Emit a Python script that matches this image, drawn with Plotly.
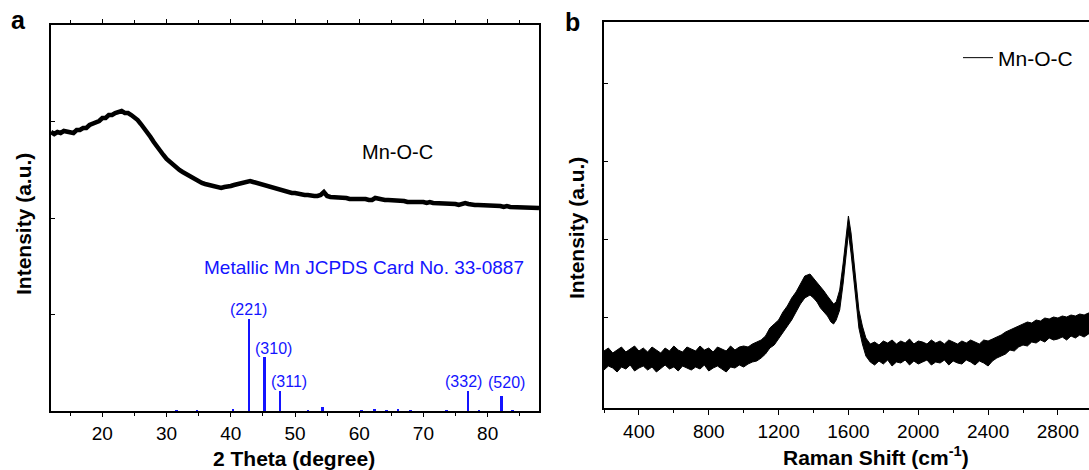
import plotly.graph_objects as go

FONT = "Liberation Sans, Arial, sans-serif"
BLUE = "#1414ff"

# ---------- panel a : XRD ----------
xrd_2theta = [12.0, 12.5, 13.0, 13.5, 14.0, 14.5, 15.0, 15.5, 16.0, 16.5, 17.0, 17.5, 18.0, 18.5, 19.0, 19.5,
              20.0, 20.5, 21.0, 21.5, 22.0, 22.5, 23.0, 23.5, 24.0, 24.5, 25.0, 25.5, 26.0, 26.5, 27.0, 27.5,
              28.0, 28.5, 29.0, 29.5, 30.0, 30.5, 31.0, 31.5, 32.0, 32.5, 33.0, 33.5, 34.0, 34.5, 35.0, 35.5,
              36.0, 36.5, 37.0, 37.5, 38.0, 38.5, 39.0, 39.5, 40.0, 40.5, 41.0, 41.5, 42.0, 42.5, 43.0, 43.5,
              44.0, 44.5, 45.0, 45.5, 46.0, 46.5, 47.0, 47.5, 48.0, 48.5, 49.0, 49.5, 50.0, 50.5, 51.0, 51.5,
              52.0, 52.5, 53.0, 53.5, 54.0, 54.5, 55.0, 55.5, 56.0, 56.5, 57.0, 57.5, 58.0, 58.5, 59.0, 59.5,
              60.0, 60.5, 61.0, 61.5, 62.0, 62.5, 63.0, 63.5, 64.0, 64.5, 65.0, 65.5, 66.0, 66.5, 67.0, 67.5,
              68.0, 68.5, 69.0, 69.5, 70.0, 70.5, 71.0, 71.5, 72.0, 72.5, 73.0, 73.5, 74.0, 74.5, 75.0, 75.5,
              76.0, 76.5, 77.0, 77.5, 78.0, 78.5, 79.0, 79.5, 80.0, 80.5, 81.0, 81.5, 82.0, 82.5, 83.0, 83.5,
              84.0, 84.5, 85.0, 85.5, 86.0, 86.5, 87.0, 87.5, 88.0]
xrd_intensity = [279, 277, 279, 278, 280, 279, 279, 278, 281, 281, 283, 283, 286, 287, 289, 290,
                 293, 293, 296, 296, 298, 299, 300, 298, 298, 296, 294, 291, 287, 283, 278, 274,
                 269, 264, 259, 256, 252, 249, 246, 244, 241, 239, 237, 235, 233, 232, 230, 228,
                 227, 226, 225, 224, 224, 223, 224, 224, 225, 226, 227, 228, 229, 230, 230, 229,
                 228, 227, 226, 225, 224, 223, 222, 221, 220, 220, 219, 218, 218, 217, 217, 216,
                 216, 215, 215, 215, 216, 219, 215, 214, 214, 214, 213, 213, 213, 212, 212, 213,
                 212, 212, 212, 211, 211, 213, 212, 211, 211, 211, 211, 210, 210, 210, 210, 209,
                 209, 210, 209, 209, 209, 208, 209, 208, 208, 208, 207, 208, 207, 207, 207, 206,
                 207, 208, 207, 206, 206, 206, 206, 205, 206, 205, 205, 205, 205, 204, 205, 204,
                 204, 204, 204, 203, 203, 203, 203, 203, 203]

stick_2theta = [31.6, 34.8, 40.4, 42.9, 45.3, 47.7, 52.1, 54.3, 60.4, 62.4, 64.3, 66.1, 68.0, 73.6, 77.0, 78.7, 82.2, 83.9]
stick_height = [1.0, 1.0, 2.5, 92.5, 54.0, 20.0, 1.0, 4.5, 1.0, 2.0, 1.0, 1.5, 1.0, 1.0, 20.0, 1.0, 15.0, 1.0]

hkl_labels = ["(221)", "(310)", "(311)", "(332)", "(520)"]
hkl_x = [42.8, 46.7, 49.1, 76.2, 83.0]
hkl_y = [102, 63, 30, 30, 29]

# ---------- panel b : Raman (noise envelope of the spectrum) ----------
raman_shift = [200, 225, 250, 275, 300, 325, 350, 375, 400, 425, 450, 475, 500, 525, 550, 575,
               600, 625, 650, 675, 700, 725, 750, 775, 800, 825, 850, 875, 900, 925, 950, 975,
               1000, 1025, 1050, 1075, 1100,
               1125, 1150, 1175, 1200, 1225, 1250, 1275, 1300, 1325, 1350, 1380, 1400, 1420, 1440,
               1460, 1480, 1500, 1515, 1530, 1550, 1570, 1585, 1600, 1615, 1630, 1645, 1660, 1680, 1700,
               1725, 1750, 1775, 1800, 1825, 1850, 1875, 1900, 1925, 1950, 1975, 2000, 2025, 2050,
               2075, 2100, 2125, 2150, 2175, 2200, 2225, 2250, 2275, 2300, 2325, 2350, 2375, 2400,
               2425, 2450, 2475, 2500, 2525, 2550, 2575, 2600, 2625, 2650, 2675, 2700, 2725, 2750,
               2775, 2800, 2825, 2850, 2875, 2900, 2925, 2950, 2975, 3000]
raman_low = [38, 42, 40, 36, 41, 39, 43, 37, 40, 42, 38, 41, 36, 40, 43, 39,
             41, 37, 42, 40, 38, 41, 39, 43, 37, 40, 42, 39, 36, 41, 40, 43,
             41, 44, 46, 47, 50,
             54, 60, 63, 69, 76, 82, 88, 96, 104, 110, 113, 110, 106, 100,
             96, 92, 86, 84, 88, 98, 125, 152, 175, 155, 128, 100, 80, 64, 52,
             46, 43, 47, 44, 48, 42, 46, 45, 48, 43, 47, 44, 46, 48,
             43, 46, 45, 48, 43, 47, 45, 44, 48, 46, 43, 47, 45, 42,
             47, 50, 52, 54, 58, 57, 61, 63, 62, 66, 65, 68, 66, 70,
             68, 69, 71, 68, 72, 70, 73, 71, 74, 72]
raman_high = [57, 60, 55, 58, 61, 56, 59, 62, 57, 60, 56, 61, 58, 55, 60, 57,
              62, 58, 56, 61, 59, 57, 62, 58, 60, 56, 61, 59, 57, 62, 58, 61,
              62, 61, 64, 66, 68,
              72, 80, 84, 88, 96, 102, 110, 116, 124, 132, 134, 130, 126, 122,
              117, 112, 108, 104, 106, 118, 145, 172, 192, 175, 148, 120, 98, 82, 70,
              64, 66, 63, 67, 65, 68, 64, 67, 65, 69, 64, 67, 66, 64,
              68, 65, 67, 64, 68, 66, 64, 67, 65, 68, 66, 64, 68, 67,
              69, 71, 73, 76, 78, 80, 82, 84, 86, 85, 88, 87, 90, 89,
              91, 90, 92, 91, 93, 92, 94, 93, 95, 94]

fig = go.Figure()

fig.add_trace(go.Scatter(x=xrd_2theta, y=xrd_intensity, mode="lines",
                         line=dict(color="black", width=4.5), showlegend=False,
                         xaxis="x", yaxis="y"))
fig.add_trace(go.Bar(x=stick_2theta, y=stick_height, width=0.3, marker=dict(color=BLUE, line=dict(width=0)),
                     showlegend=False, xaxis="x", yaxis="y"))

fig.add_trace(go.Scatter(x=raman_shift, y=raman_low, mode="lines",
                         line=dict(color="black", width=1), showlegend=False,
                         xaxis="x2", yaxis="y2"))
fig.add_trace(go.Scatter(x=raman_shift, y=raman_high, mode="lines", fill="tonexty",
                         fillcolor="black", line=dict(color="black", width=1), showlegend=False,
                         xaxis="x2", yaxis="y2"))
fig.add_trace(go.Scatter(x=[None], y=[None], mode="lines", name="Mn-O-C",
                         line=dict(color="black", width=1), showlegend=True,
                         xaxis="x2", yaxis="y2"))

W, H = 1089, 470
axis_common = dict(showline=True, linecolor="black", linewidth=1.6, showgrid=False, zeroline=False,
                   tickfont=dict(family=FONT, size=19, color="black"), tickcolor="black")

fig.update_layout(
    width=W, height=H, margin=dict(l=0, r=0, t=0, b=0),
    paper_bgcolor="white", plot_bgcolor="white",
    font=dict(family=FONT, color="black"),
    bargap=0,
    xaxis=dict(domain=[51 / W, 539 / W], range=[12, 88], anchor="y",
               tick0=0, dtick=10, ticks="outside", ticklen=4, tickwidth=1.2, mirror="ticks",
               minor=dict(dtick=5, ticks="outside", ticklen=3, tickwidth=1.2, tickcolor="black"),
               **axis_common),
    yaxis=dict(domain=[(H - 411) / H, (H - 25) / H], range=[0, 386], anchor="x",
               tickvals=[96.5, 193, 289.5], showticklabels=False,
               ticks="inside", ticklen=4, tickwidth=1.2, mirror=True, **axis_common),
    xaxis2=dict(domain=[604 / W, 1.0], range=[200, 2978], anchor="y2",
                tick0=0, dtick=400, ticks="outside", ticklen=5, tickwidth=1.2, mirror=True,
                minor=dict(dtick=200, ticks="outside", ticklen=3, tickwidth=1.2, tickcolor="black"),
                **axis_common),
    yaxis2=dict(domain=[(H - 408) / H, (H - 22) / H], range=[0, 386], anchor="x2",
                tickvals=[91, 169, 247, 325], showticklabels=False,
                ticks="inside", ticklen=4, tickwidth=1.2, **axis_common),
    legend=dict(x=958 / W, y=(H - 58) / H, xanchor="left", yanchor="middle",
                font=dict(family=FONT, size=21, color="black"), bgcolor="rgba(0,0,0,0)"),
)

ann = []
for lab, lx, ly in zip(hkl_labels, hkl_x, hkl_y):
    ann.append(dict(x=lx, y=ly, xref="x", yref="y", text=lab, showarrow=False,
                    font=dict(family=FONT, size=16, color=BLUE), xanchor="center", yanchor="middle"))
ann.append(dict(x=60.7, y=144, xref="x", yref="y", text="Metallic Mn JCPDS Card No. 33-0887",
                showarrow=False, font=dict(family=FONT, size=19, color=BLUE), xanchor="center", yanchor="middle"))
ann.append(dict(x=65.9, y=259, xref="x", yref="y", text="Mn-O-C", showarrow=False,
                font=dict(family=FONT, size=20, color="black"), xanchor="center", yanchor="middle"))
# axis titles and panel letters
ann.append(dict(x=294 / W, y=(H - 458) / H, xref="paper", yref="paper", text="<b>2 Theta (degree)</b>",
                showarrow=False, font=dict(family=FONT, size=21, color="black"), xanchor="center", yanchor="middle"))
ann.append(dict(x=876 / W, y=(H - 456) / H, xref="paper", yref="paper", text="<b>Raman Shift (cm<sup>-1</sup>)</b>",
                showarrow=False, font=dict(family=FONT, size=21, color="black"), xanchor="center", yanchor="middle"))
ann.append(dict(x=23 / W, y=(H - 224) / H, xref="paper", yref="paper", text="<b>Intensity (a.u.)</b>",
                showarrow=False, textangle=-90, font=dict(family=FONT, size=21, color="black"),
                xanchor="center", yanchor="middle"))
ann.append(dict(x=576 / W, y=(H - 228) / H, xref="paper", yref="paper", text="<b>Intensity (a.u.)</b>",
                showarrow=False, textangle=-90, font=dict(family=FONT, size=21, color="black"),
                xanchor="center", yanchor="middle"))
ann.append(dict(x=18 / W, y=(H - 20) / H, xref="paper", yref="paper", text="<b>a</b>",
                showarrow=False, font=dict(family=FONT, size=25, color="black"), xanchor="center", yanchor="middle"))
ann.append(dict(x=572 / W, y=(H - 22) / H, xref="paper", yref="paper", text="<b>b</b>",
                showarrow=False, font=dict(family=FONT, size=25, color="black"), xanchor="center", yanchor="middle"))
fig.update_layout(annotations=ann)

fig.write_html("out.html")
